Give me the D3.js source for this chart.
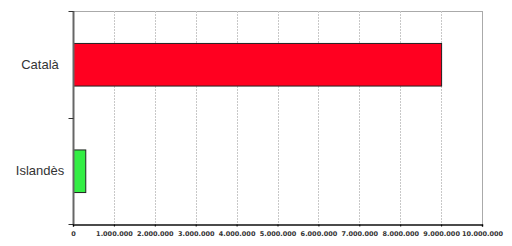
<!DOCTYPE html>
<html>
<head>
<meta charset="utf-8">
<script src="https://cdn.jsdelivr.net/npm/d3@7"></script>
<style>
  body { margin: 0; background: #fff; }
  svg { display: block; }
</style>
</head>
<body>
<div id="chart"></div>
<script>
// chart data
const languages = ["Català", "Islandès"];
const speakers = [9000000, 300000];
const barColors = ["#ff0020", "#33ee44"];
const xTicks = [0, 1000000, 2000000, 3000000, 4000000, 5000000, 6000000, 7000000, 8000000, 9000000, 10000000];

// layout constants
const w = 512;
const h = 246;
const margin = { top: 11, right: 30, bottom: 22, left: 73 };

const svg = d3.select("#chart").append("svg")
  .attr("width", w)
  .attr("height", h);

const xScale = d3.scaleLinear()
  .domain([0, 10000000])
  .range([margin.left, w - margin.right]);

const yScale = d3.scaleBand()
  .domain(languages)
  .range([margin.top, h - margin.bottom])
  .paddingInner(0.6)
  .paddingOuter(0.3);

const fmt = d => d3.format(",")(d).replace(/,/g, ".");

// top frame
svg.append("line")
  .attr("x1", margin.left).attr("x2", w - margin.right)
  .attr("y1", margin.top + 0.5).attr("y2", margin.top + 0.5)
  .attr("stroke", "#aaa");

// gridlines (last one is the solid right frame)
svg.append("g")
  .selectAll("line")
  .data(xTicks.slice(1))
  .join("line")
  .attr("x1", d => Math.round(xScale(d)) + 0.5)
  .attr("x2", d => Math.round(xScale(d)) + 0.5)
  .attr("y1", margin.top)
  .attr("y2", h - margin.bottom)
  .attr("stroke", d => d === 10000000 ? "#aaa" : "#c8c8c8")
  .attr("stroke-dasharray", d => d === 10000000 ? null : "2,1");

// bars
svg.append("g")
  .selectAll("rect")
  .data(languages)
  .join("rect")
  .attr("x", xScale(0) + 0.5)
  .attr("y", d => yScale(d) + 0.5)
  .attr("width", (d, i) => xScale(speakers[i]) - xScale(0))
  .attr("height", yScale.bandwidth())
  .attr("fill", (d, i) => barColors[i])
  .attr("stroke", "#222")
  .attr("stroke-width", 1);

// y axis
const yAxis = svg.append("g").attr("transform", `translate(${margin.left + 0.5},0)`);
yAxis.append("line")
  .attr("y1", margin.top).attr("y2", h - margin.bottom)
  .attr("stroke", "#666").attr("stroke-width", 2);
yAxis.selectAll(".tick")
  .data([margin.top, margin.top + yScale.step(), h - margin.bottom])
  .join("line")
  .attr("class", "tick")
  .attr("x1", -5).attr("x2", 0)
  .attr("y1", d => Math.round(d) + 0.5).attr("y2", d => Math.round(d) + 0.5)
  .attr("stroke", "#333");
yAxis.selectAll("text")
  .data(languages)
  .join("text")
  .attr("x", -33.5)
  .attr("y", d => yScale(d) + yScale.bandwidth() / 2)
  .attr("dy", "0.35em")
  .attr("text-anchor", "middle")
  .style("font-family", "Liberation Sans, Arial, sans-serif")
  .style("font-size", "13px")
  .attr("fill", "#333")
  .text(d => d);

// x axis
const xAxis = d3.axisBottom(xScale)
  .tickValues(xTicks)
  .tickFormat(fmt)
  .tickSize(2)
  .tickPadding(5);

const gx = svg.append("g")
  .attr("transform", `translate(0,${h - margin.bottom + 0.5})`)
  .call(xAxis);
gx.select(".domain").attr("stroke", "#111").attr("stroke-width", 1.5);
gx.selectAll("text")
  .style("font-family", "DejaVu Sans, Verdana, sans-serif")
  .style("font-size", "6.5px")
  .style("font-weight", "bold")
  .attr("fill", "#333");
</script>
</body>
</html>
